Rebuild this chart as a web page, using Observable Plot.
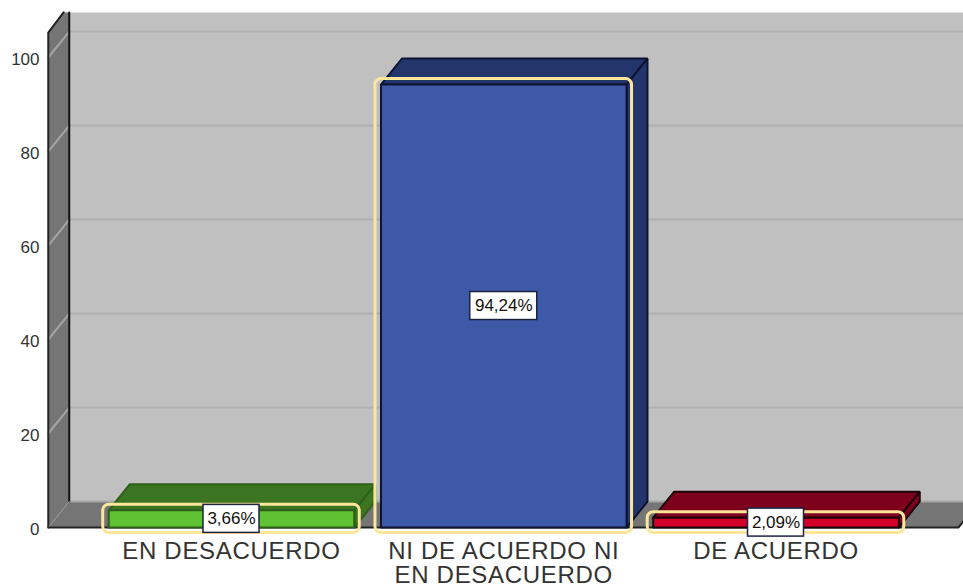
<!DOCTYPE html>
<html><head><meta charset="utf-8">
<script src="https://cdn.jsdelivr.net/npm/d3@7"></script>
<script src="https://cdn.jsdelivr.net/npm/@observablehq/plot@0.6"></script>
<style>html,body{margin:0;padding:0;background:#fff;overflow:hidden}svg{display:block}.cat text{letter-spacing:.7px}</style>
</head><body><div id="c"></div>
<script>
const categories = ["EN DESACUERDO", "NI DE ACUERDO NI\nEN DESACUERDO", "DE ACUERDO"];
const values = [3.66, 94.24, 2.09];
const valueLabels = ["3,66%", "94,24%", "2,09%"];
const frontColors = ["#5ec232", "#3d59a8", "#d40029"];
const darkColors = ["#3c7521", "#24356b", "#7d001c"];
const edgeColors = ["#2f5f1a", "#0d1330", "#1a0508"];
const yTicks = [0, 20, 40, 60, 80, 100];
const labelHalfWidths = [28, 33.5, 28];

// depth of the pseudo-3D box in data units
const dx = 0.077, dy = 5.53, hw = 0.451;
const xL = -0.673, xR = 2.67, yTop = 105.3;

const poly = (pts, fill, stroke = "none", strokeWidth = 2) =>
  Plot.line([...pts, pts[0]].map(([x, y]) => ({x, y})),
    {x: "x", y: "y", fill, stroke, strokeWidth, strokeLinejoin: "miter"});
const seg = (pts, stroke, strokeWidth = 2) =>
  Plot.line(pts.map(([x, y]) => ({x, y})), {x: "x", y: "y", stroke, strokeWidth});

const wallTop = 109.6; // clipped at the picture's upper edge
const marks = [
  // back wall
  poly([[xL + dx, dy], [3, dy], [3, wallTop], [xL + dx, wallTop]], "#c0c0c0"),
  // floor
  poly([[xL, 0], [xR, 0], [xR + dx, dy], [xL + dx, dy]], "#757575"),
  seg([[xL + dx, dy], [3, dy]], "#a8a8a8", 2),
  // grid on back wall
  ...yTicks.slice(1).map(t => seg([[xL + dx, t + dy], [3, t + dy]], "#b0b0b0", 2)),
  // left wall
  poly([[xL, 0], [xL + dx, dy], [xL + dx, wallTop], [xL + dx * 0.73, wallTop], [xL, yTop]], "#757575"),
  ...yTicks.slice(1).map(t => seg([[xL, t], [xL + dx, t + dy]], "#a4a4a4", 2)),
  seg([[xL + dx, dy], [xL + dx, wallTop]], "#111", 2),
  seg([[xL, 0], [xL, yTop], [xL + dx * 0.73, wallTop]], "#222", 2),
  seg([[xL, 0], [xL + dx, dy]], "#999", 1),
  seg([[xL, 0], [xR, 0], [xR + dx * 0.3, dy * 0.3]], "#222", 2)
];

// bars: green, red, then blue so blue sits in front of green's side
[0, 2, 1].forEach(i => {
  const a = i - hw, b = i + hw, v = values[i], e = edgeColors[i];
  marks.push(
    poly([[a, v], [b, v], [b + dx, v + dy], [a + dx, v + dy]], darkColors[i], e, 2),
    poly([[b, 0], [b + dx, dy], [b + dx, v + dy], [b, v]], darkColors[i], e, 2),
    poly([[a, 0], [b, 0], [b, v], [a, v]], frontColors[i], e, 2),
    Plot.rect([i], {
      x1: d => d - hw, x2: d => d + hw, y1: 0, y2: () => v,
      inset: -5.5, rx: 6, fill: "none", stroke: "#fde59a", strokeWidth: 3
    })
  );
});

// value labels
values.forEach((v, i) => {
  marks.push(
    Plot.rect([v], {
      x1: () => i, x2: () => i, y1: d => d / 2, y2: d => d / 2,
      insetLeft: -labelHalfWidths[i], insetRight: -labelHalfWidths[i], insetTop: -14, insetBottom: -14,
      fill: "#fff", stroke: "#1c2340", strokeWidth: 1.5
    }),
    Plot.text([v], {
      x: () => i, y: d => d / 2, text: () => valueLabels[i],
      fontSize: 17, fill: "#111", fontFamily: "Liberation Sans"
    })
  );
});
marks.push(
  Plot.text(categories, {
    x: (d, i) => i, y: () => 0, text: d => d, lineAnchor: "top", dy: 14,
    fontSize: 24, lineHeight: 1, fill: "#333", fontFamily: "Liberation Sans", className: "cat"
  }),
  Plot.axisY(yTicks, {
    anchor: "left", tickSize: 0, tickPadding: 9, label: null, dy: 2.5,
    fontSize: 17, fill: "#333", fontFamily: "Liberation Sans"
  })
);

const chart = Plot.plot({
  width: 963, height: 587,
  marginLeft: 48, marginRight: 0, marginTop: 0, marginBottom: 0,
  x: {domain: [0, 2], range: [231, 775.5], axis: null},
  y: {domain: [0, 100], range: [527, 57]},
  style: {background: "#fff"},
  marks
});
document.getElementById("c").appendChild(chart);
</script></body></html>
